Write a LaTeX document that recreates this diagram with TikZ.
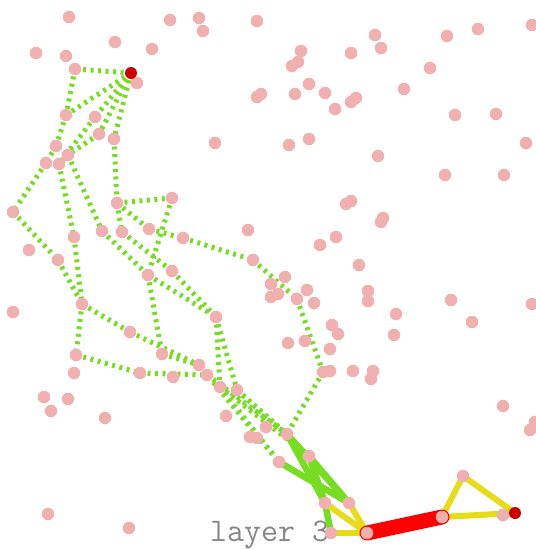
\documentclass[tikz,border=0pt]{standalone}
\definecolor{pinkdot}{RGB}{241,176,176}
\definecolor{darkred}{RGB}{204,0,0}
\definecolor{grn}{RGB}{119,221,34}
\definecolor{yel}{RGB}{230,221,25}
\definecolor{redln}{RGB}{255,0,0}
\definecolor{lbl}{RGB}{135,135,135}
\begin{document}
\begin{tikzpicture}[x=1pt,y=-1pt,
  pk/.style={circle,fill=pinkdot,minimum size=12.5pt,inner sep=0pt},
  rd/.style={circle,fill=darkred,minimum size=12pt,inner sep=0pt},
  dotedge/.style={draw=grn,line width=5pt,dash pattern=on 3pt off 4.5pt},
  gedge/.style={draw=grn,line width=6.5pt,line cap=round},
  yedge/.style={draw=yel,line width=6pt,line cap=round},
  redge/.style={draw=redln,line width=15pt,line cap=round}]
\useasboundingbox (0,0) rectangle (536,550);
\fill[white] (0,0) rectangle (536,550);
\node[lbl,font=\ttfamily\fontsize{33pt}{34pt}\selectfont,anchor=base west,inner sep=0pt] (lab) at (210,541) {layer 3};
% nodes as coordinates first
\foreach \n/\x/\y in {
1/69/17,2/170/20,3/199/18,4/203/31,5/257/21,6/115/42,7/152/49,8/36/53,9/66/56,10/75/69,
11/137/83,12/257/97,13/261/94,14/66/115,15/95/117,16/99/134,17/114/139,18/215/143,19/56/146,20/68/155,
21/46/163,22/59/164,23/13/212,24/117/203,25/172/198,26/248/230,27/102/231,28/122/232,29/149/229,30/74/237,
31/183/238,32/29/250,33/58/260,34/253/260,35/172/271,36/148/275,37/375/35,38/447/36,39/478/29,40/532/25,
41/301/51,42/351/53,43/381/48,44/298/62,45/292/66,46/430/68,47/309/84,48/325/93,49/295/94,50/404/89,
51/356/98,52/351/102,53/335/109,54/455/115,55/496/114,56/526/143,57/309/139,58/289/145,59/378/156,60/445/175,
61/504/175,62/351/201,63/346/204,64/383/218,65/381/222,66/336/237,67/320/245,68/359/265,69/13/312,70/82/304,
71/130/332,72/216/317,73/76/355,74/162/354,75/74/373,76/140/373,77/173/377,78/199/365,79/207/375,80/220/387,
81/237/390,82/44/397,83/68/399,84/51/411,85/105/418,86/226/416,87/250/437,88/257/438,89/266/427,90/48/514,
91/129/528,92/285/277,93/271/284,94/278/294,95/271/297,96/307/290,97/368/291,98/368/301,99/297/299,100/314/303,
101/451/300,102/472/322,103/532/304,104/396/314,105/394/335,106/332/325,107/338/334,108/288/343,109/305/341,110/330/349,
111/323/372,112/330/371,113/353/371,114/373/371,115/371/379,116/503/406,117/530/430,118/535/422,119/287/434,120/279/462,
121/309/456,122/325/503,123/349/503,124/331/533,125/367/533,126/442/517,127/463/476,128/503/515}
  {\coordinate (c\n) at (\x,\y);}
\coordinate (cs) at (131,73);
\coordinate (ct) at (515,513);
% dotted edges
\foreach \a/\b in {s/10,10/14,14/19,19/21,21/23,s/14,s/15,s/16,s/17,15/22,16/20,17/24,
  22/30,30/70,23/33,33/70,20/27,27/36,24/25,25/36,24/28,28/35,24/29,29/31,31/34,34/99,99/111,111/119,
  35/72,36/72,36/74,70/73,70/71,71/78,74/78,73/76,76/79,72/80,72/81,
  78/120,79/119,80/120,80/121,81/119,81/121}
  {\draw[dotedge] (c\a) -- (c\b);}
% solid green
\foreach \a/\b in {119/122,119/123,120/123,121/122,121/123,122/124}
  {\draw[gedge] (c\a) -- (c\b);}
% yellow
\foreach \a/\b in {122/125,123/125,124/125,126/127,127/t,126/t}
  {\draw[yedge] (c\a) -- (c\b);}
% red
\draw[redge] (c125) -- (c126);
% nodes on top
\foreach \n in {1,...,128} {\node[pk] (n\n) at (c\n) {};}
\node[rd] (s) at (cs) {};
\node[rd] (t) at (ct) {};
\node[pk] at (c128) {};
\end{tikzpicture}
\end{document}
